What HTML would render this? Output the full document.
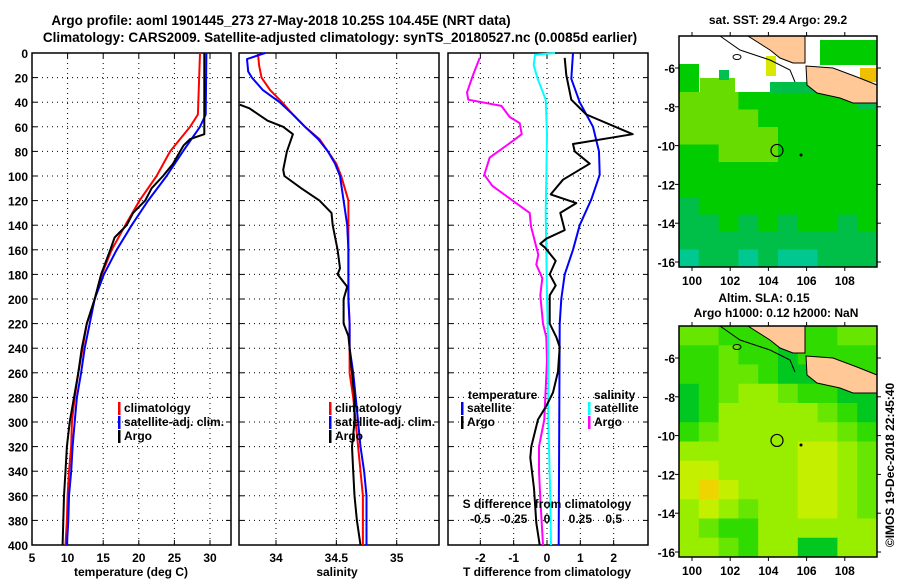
<!DOCTYPE html>
<html><head><meta charset="utf-8">
<style>
body{margin:0;background:#fff;}
svg text{font-family:"Liberation Sans",Arial,sans-serif;font-weight:bold;fill:#000;}
</style></head>
<body>
<svg id="fig" width="900" height="580" viewBox="0 0 900 580" xmlns="http://www.w3.org/2000/svg">
<text x="281" y="25" font-size="13.5" text-anchor="middle">Argo profile: aoml 1901445_273 27-May-2018 10.25S 104.45E (NRT data)</text>
<text x="340" y="42" font-size="13.5" text-anchor="middle">Climatology: CARS2009. Satellite-adjusted climatology: synTS_20180527.nc (0.0085d earlier)</text>
</svg>
<script>
// ---------- data ----------
const tDepth = [0,50,60,80,100,120,140,160,180,200,220,240,260,280,300,320,340,360,380,400];
const tClim  = [28.6,28.3,27.2,24.4,22.5,20.1,18.1,16.2,14.8,13.8,12.7,12.1,11.5,11.0,10.6,10.5,10.2,10.0,9.9,9.7];
const tSat   = [29.5,29.4,28.6,26.2,23.9,21.3,19.0,16.9,15.1,13.8,13.1,12.4,11.9,11.3,11.0,10.7,10.5,10.2,10.1,9.9];
const argoTDepth = [0,66,70,75,80,90,100,110,120,130,140,150,160,180,200,220,240,260,280,300,320,340,360,380,400];
const argoT      = [29.2,29.2,27.2,26.3,25.8,24.8,23.4,21.8,20.9,19.2,18.3,16.6,16.0,14.7,13.8,12.7,12.0,11.5,10.9,10.3,9.9,9.7,9.5,9.4,9.3];

const sClimDepth = [0,10,20,30,40,50,60,70,80,90,100,110,120,200,220,260,280,300,320,340,360,400];
const sClim      = [33.85,33.86,33.88,33.95,34.05,34.14,34.24,34.36,34.43,34.5,34.54,34.57,34.6,34.6,34.61,34.61,34.64,34.66,34.68,34.7,34.72,34.72];
const sSatDepth = [0,5,15,20,30,40,50,60,70,80,90,100,120,140,160,200,220,240,260,280,300,320,340,360,400];
const sSat      = [33.91,33.76,33.77,33.8,33.89,34.03,34.14,34.24,34.35,34.43,34.49,34.53,34.56,34.59,34.6,34.6,34.61,34.61,34.64,34.66,34.68,34.7,34.73,34.75,34.75];
const argoSDepth = [42,45,55,60,66,80,95,100,110,120,130,140,160,175,180,190,200,220,230,260,280,300,320,340,360,380,400];
const argoS      = [33.7,33.78,33.93,34.06,34.14,34.09,34.06,34.07,34.21,34.36,34.46,34.47,34.51,34.53,34.51,34.59,34.56,34.56,34.6,34.63,34.65,34.65,34.63,34.64,34.65,34.67,34.7];

const dTSatDepth = [0,21,40,60,80,99,119,140,160,180,200,220,400];
const dTSat      = [0.78,0.73,0.98,1.38,1.56,1.58,1.33,0.98,0.78,0.53,0.43,0.38,0.35];
const dTArgoDepth = [4,18,38,50,66,74,80,90,103,115,122,130,144,151,155,158,169,180,189,197,220,231,239,259,276,287,298,320,329,354,382,400];
const dTArgo      = [0.53,0.58,0.73,1.18,2.57,0.78,0.83,1.28,0.48,0.11,0.88,0.4,0.53,-0.02,-0.2,-0.07,0.26,0.08,0.26,0.08,0.08,0.28,0.38,0.33,0.18,-0.02,-0.27,-0.47,-0.5,-0.39,-0.32,-0.22];
const dSArgoDepth = [4,18,32,38,43,52,57,66,71,85,99,108,119,130,141,164,172,183,197,220,231,250,298,320,340,362,400];
const dSArgo      = [-0.505,-0.555,-0.6,-0.59,-0.342,-0.28,-0.205,-0.19,-0.25,-0.43,-0.47,-0.41,-0.27,-0.13,-0.12,-0.065,-0.08,-0.035,-0.05,-0.03,-0.005,0,-0.02,-0.06,-0.06,-0.05,-0.03];
const dSSatDepth = [0,1.5,10,21,38,66,102,130,160,200,242,300,362,400];
const dSSat      = [0.06,-0.09,-0.1,-0.07,-0.01,0,-0.005,-0.01,-0.005,0,0.01,0.01,0.025,0.03];

const depthTicks = [0,20,40,60,80,100,120,140,160,180,200,220,240,260,280,300,320,340,360,380,400];
const tempTicks = [5,10,15,20,25,30];
const salTicks = [34,34.5,35];
const salTickLabels = ["34","34.5","35"];
const dTTicks = [-2,-1,0,1,2];
const dSTicks = [-0.5,-0.25,0,0.25,0.5];
const dSTickLabels = ["-0.5","-0.25","0","0.25","0.5"];
const lonTicks = [100,102,104,106,108];
const latTicks = [-6,-8,-10,-12,-14,-16];

const sstGrid = [
 [3,3,3,2,2,2,2,2,2,1],
 [3,3,3,3,2,2,2,2,2,2],
 [3,3,3,3,3,2,2,2,2,2],
 [2,2,3,3,3,2,2,2,2,2],
 [2,2,2,2,2,2,2,2,2,2],
 [2,2,2,2,2,2,2,2,2,2],
 [1,2,2,2,2,2,2,2,2,2],
 [1,1,2,1,2,1,2,2,1,2],
 [1,1,1,1,1,1,1,1,1,1],
 [0,1,1,0,1,0,0,1,1,1]];
const slaGrid = [
 [2,2,1,1,1,1,1,1,2,2],
 [1,1,2,1,1,0,1,1,1,1],
 [1,1,2,2,1,0,0,1,1,1],
 [0,1,2,3,3,2,1,1,0,0],
 [0,1,3,3,3,3,3,2,1,0],
 [1,2,3,3,3,3,3,3,2,1],
 [3,3,3,3,3,3,4,4,3,2],
 [4,4,3,3,3,3,4,4,3,2],
 [4,5,4,3,3,3,4,4,3,2],
 [3,4,3,2,3,3,4,4,3,2],
 [3,2,1,1,3,3,3,3,3,3],
 [3,3,2,1,3,3,0,0,3,3]];
const argoLon = 104.45, argoLat = -10.25;

// ---------- helpers ----------
const svg = document.getElementById('fig');
const NS = 'http://www.w3.org/2000/svg';
function mk(tag, attrs, parent){const e=document.createElementNS(NS,tag);for(const k in attrs)e.setAttribute(k,attrs[k]);(parent||svg).appendChild(e);return e;}
function txt(x,y,s,size,anchor){const e=mk('text',{x:x,y:y,'font-size':size||12,'text-anchor':anchor||'middle'});e.textContent=s;return e;}

const top0=53, bot0=545;
const yD = d => top0 + d*(bot0-top0)/400;

function panel(left,right,xmin,xmax,name){
  const xs = v => left + (v-xmin)*(right-left)/(xmax-xmin);
  const g = mk('g',{});
  
  
  return {xs,g,left,right};
}
function grid(p, xticks){
  depthTicks.forEach(d=>{ if(d>0&&d<400){const l=mk('line',{x1:p.left,x2:p.right,y1:yD(d),y2:yD(d),stroke:'#000','stroke-width':1,'stroke-dasharray':'1,4'},p.g);
    
    
    mk('line',{x1:p.left,x2:p.left+5,y1:yD(d),y2:yD(d),stroke:'#000'},p.g);
    mk('line',{x1:p.right-5,x2:p.right,y1:yD(d),y2:yD(d),stroke:'#000'},p.g);}});
  xticks.forEach(v=>{const x=p.xs(v); if(x>p.left+1&&x<p.right-1){const l=mk('line',{x1:x,x2:x,y1:top0,y2:bot0,stroke:'#000','stroke-width':1,'stroke-dasharray':'1,4'},p.g);
    
    
    mk('line',{x1:x,x2:x,y1:top0,y2:top0+5,stroke:'#000'},p.g);
    mk('line',{x1:x,x2:x,y1:bot0-5,y2:bot0,stroke:'#000'},p.g);}});
  const f=mk('rect',{x:p.left,y:top0,width:p.right-p.left,height:bot0-top0,fill:'none',stroke:'#000','stroke-width':1.5},p.g);
  
  
}
function line(p, vals, depths, color, name, xf, w){
  const pts = vals.map((v,i)=> (xf?xf(v):p.xs(v)).toFixed(1)+','+yD(depths[i]).toFixed(1)).join(' ');
  const e = mk('polyline',{points:pts,fill:'none',stroke:color,'stroke-width':w||2,'stroke-linejoin':'round'},p.g);
  
  
}
function legendEntry(x,y,color,label,name){
  const b=mk('rect',{x:x,y:y-10,width:2.5,height:13,fill:color});
  
  
  const t=txt(x+6,y,label,12,'start');
  
  
}

depthTicks.forEach(d=>{const t=txt(28,yD(d)+5,String(d),12,'end');
  
  });

// ---------- panel 1 temperature ----------
const p1 = panel(32,231,5,5+199/7.12,'temperature-panel');
grid(p1,tempTicks);
line(p1,tClim,tDepth,'#f00','temp-climatology-line');
line(p1,tSat,tDepth,'#00f','temp-satellite-line');
line(p1,argoT,argoTDepth,'#000','temp-argo-line');
tempTicks.forEach(v=>{const t=txt(p1.xs(v),562,String(v),12);
  
  });
{const t=txt(131,576,'temperature (deg C)',12);
 
 }
legendEntry(118,412,'#f00','climatology','legend-climatology');
legendEntry(118,426,'#00f','satellite-adj. clim.','legend-satellite-adj');
legendEntry(118,440,'#000','Argo','legend-argo');

// ---------- panel 2 salinity ----------
const p2 = panel(239,439,34-37/120.7,34+163/120.7,'salinity-panel');
grid(p2,salTicks);
line(p2,sClim,sClimDepth,'#f00','sal-climatology-line');
line(p2,sSat,sSatDepth,'#00f','sal-satellite-line');
line(p2,argoS,argoSDepth,'#000','sal-argo-line');
salTicks.forEach((v,i)=>{const t=txt(p2.xs(v),562,salTickLabels[i],12);
  
  });
{const t=txt(337,576,'salinity',12);
 
 }
legendEntry(329,412,'#f00','climatology','legend-climatology-2');
legendEntry(329,426,'#00f','satellite-adj. clim.','legend-satellite-adj-2');
legendEntry(329,440,'#000','Argo','legend-argo-2');

// ---------- panel 3 differences ----------
const p3 = panel(448,648,-2.97,3.03,'difference-panel');
const xS = s => p3.xs(s*4);
grid(p3,dTTicks);
line(p3,dSArgo,dSArgoDepth,'#f0f','sal-diff-argo-line',xS);
line(p3,dSSat,dSSatDepth,'#0ff','sal-diff-satellite-line',xS);
line(p3,dTSat,dTSatDepth,'#00f','temp-diff-satellite-line');
line(p3,dTArgo,dTArgoDepth,'#000','temp-diff-argo-line');
dTTicks.forEach(v=>{const t=txt(p3.xs(v),562,String(v),12);
  
  });
dSTicks.forEach((v,i)=>{const t=txt(xS(v),523,dSTickLabels[i],12);
  
  });
{const t=txt(547,508,'S difference from climatology',12);
 
 }
{const t=txt(547,576,'T difference from climatology',12);
 
 }
{const t=txt(468,399,'temperature',12,'start');
 
 }
{const t=txt(594,399,'salinity',12,'start');
 
 }
legendEntry(461,412,'#00f','satellite','legend-t-satellite');
legendEntry(461,426,'#000','Argo','legend-t-argo');
legendEntry(588,412,'#0ff','satellite','legend-s-satellite');
legendEntry(588,426,'#f0f','Argo','legend-s-argo');

// ---------- maps ----------
const sstColors = ['#00c890','#00bf48','#00cc00','#66dc00','#d8e800'];
const slaColors = ['#00c820','#30dc00','#66e600','#99ee00','#c4f000','#eed400'];
function map(top, gridData, colors, name, dataTop, whiteAbove){
  const L=679,R=877,B=top+231;
  const lx = lon => 692 + (lon-100)*19.1;
  const ly = lat => top+32 + (-6-lat)*19.4;
  const g=mk('g',{});
  
  
  mk('rect',{x:L,y:top,width:R-L,height:231,fill:whiteAbove?'#fff':colors[1]},g);
  const rows=gridData.length, cols=gridData[0].length;
  const y0=dataTop, ch=(B-y0)/rows, cw=(R-L)/cols;
  gridData.forEach((row,r)=>row.forEach((v,c)=>{
    const cell=mk('rect',{x:L+c*cw,y:y0+r*ch,width:cw+0.5,height:ch+0.5,fill:colors[v]},g);
    
    
  }));
  if(whiteAbove){
    [[679,64,20,28,'#00cc00'],[700,78,35,14,'#66dc00'],[719,70,10,10,'#00c050'],[766,56,10,20,'#d8e800'],[820,40,57,25,'#00cc00'],[860,68,17,14,'#f0c000'],[770,82,60,12,'#00bf48']].forEach(a=>{
      mk('rect',{x:a[0],y:a[1],width:a[2],height:a[3],fill:a[4]},g);});
  }
  const o=top-36;
  const sum=mk('polygon',{points:`748,${36+o} 805,${36+o} 805,${63+o} 793,${63+o} 780,${58+o} 770,${50+o}`,fill:'#ffc896',stroke:'#000','stroke-width':1},g);
  
  
  const java=mk('polygon',{points:`806,${66+o} 833,${68+o} 857,${77+o} 877,${85+o} 877,${103+o} 853,${103+o} 840,${98+o} 817,${93+o} 807,${85+o}`,fill:'#ffc896',stroke:'#000','stroke-width':1},g);
  
  
  mk('polyline',{points:`720,${36+o} 740,${50+o} 770,${60+o} 790,${70+o} 795,${82+o}`,fill:'none',stroke:'#000','stroke-width':1},g);
  mk('ellipse',{cx:737,cy:top+21,rx:4,ry:2.5,fill:'none',stroke:'#000'},g);
  const m=mk('circle',{cx:lx(argoLon),cy:ly(argoLat),r:6,fill:'none',stroke:'#000','stroke-width':1.2},g);
  
  
  mk('circle',{cx:801,cy:top+119,r:1.5,fill:'#000'},g);
  mk('rect',{x:L,y:top,width:R-L,height:231,fill:'none',stroke:'#000','stroke-width':1.5},g);
  lonTicks.forEach(v=>{mk('line',{x1:lx(v),x2:lx(v),y1:top-4,y2:top,stroke:'#000'},g);mk('line',{x1:lx(v),x2:lx(v),y1:B,y2:B+4,stroke:'#000'},g);
    const t=txt(lx(v),B+18,String(v),12);
    
    });
  latTicks.forEach(v=>{mk('line',{x1:L-4,x2:L,y1:ly(v),y2:ly(v),stroke:'#000'},g);mk('line',{x1:R,x2:R+4,y1:ly(v),y2:ly(v),stroke:'#000'},g);
    const t=txt(675,ly(v)+5,String(v),12,'end');
    
    });
}
map(36,sstGrid,sstColors,'sst-map',92,true);
map(326,slaGrid,slaColors,'sla-map',326,false);
{const t=txt(778,24,'sat. SST: 29.4 Argo: 29.2',12);
 
 }
{const t=txt(764,302,'Altim. SLA: 0.15',12);
 
 }
{const t=txt(776,317,'Argo h1000: 0.12 h2000: NaN',12);
 
 }
{const t=txt(0,0,'©IMOS 19-Dec-2018 22:45:40',12);
 t.setAttribute('transform','translate(894,465) rotate(-90)');
 t.setAttribute('font-weight','normal');
 
 }
</script>
</body></html>
